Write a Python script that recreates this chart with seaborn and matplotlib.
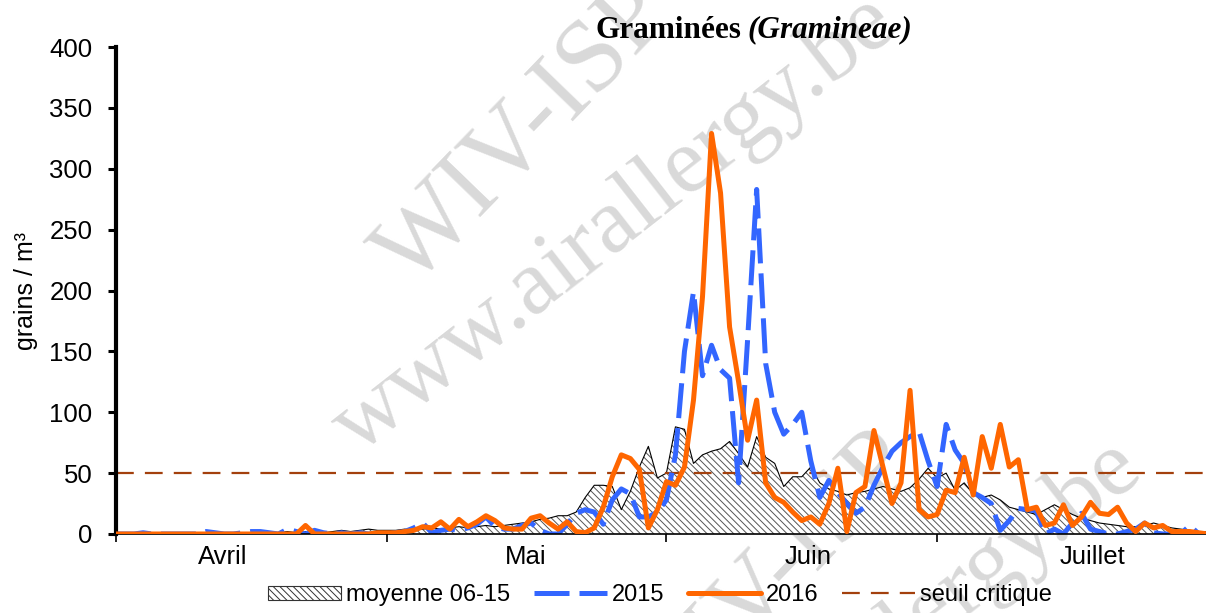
import numpy as np
import pandas as pd
import seaborn as sns
import matplotlib.pyplot as plt
from matplotlib.patches import Patch
from matplotlib.lines import Line2D

# jours depuis le 1er avril (avril -> juillet)
jours = list(range(122))

# moyenne 06-15
moyenne = [0, 0, 0, 0, 1, 0, 0, 1, 0, 0, 1, 1, 0, 1, 1,
           1, 2, 1, 1, 2, 1, 2, 2, 1, 2, 3, 2, 3, 4, 3,
           3, 3, 4, 3, 4, 5, 4, 5, 6, 5, 6, 7, 6, 7, 8,
           9, 10, 12, 13, 15, 15, 18, 30, 40, 40, 39, 20, 35, 55, 72,
           46, 50, 88, 86, 58, 65, 68, 70, 76, 66, 55, 80, 63, 58, 39,
           47, 47, 55, 42, 37, 35, 32, 34, 35, 37, 39, 37, 35, 38, 45,
           54, 46, 50, 36, 42, 33, 30, 32, 28, 22, 20, 18, 16, 20, 24,
           20, 16, 13, 11, 9, 8, 7, 6, 6, 7, 9, 7, 5, 4, 3, 2, 2]

annee_2015 = [0, 0, 0, 1, 0, 0, 0, 0, 0, 0, 2, 1, 0, 0, 1,
              2, 2, 1, 0, 4, 2, 0, 3, 1, 0, 1, 0, 1, 0, 0,
              0, 1, 2, 5, 9, 1, 3, 4, 3, 5, 8, 14, 6, 4, 4,
              7, 9, 3, 0, 0, 8, 17, 20, 18, 8, 28, 37, 33, 14, 14,
              18, 28, 65, 150, 199, 130, 155, 135, 128, 42, 160, 283, 140, 100, 82,
              90, 100, 60, 30, 44, 34, 25, 17, 22, 40, 55, 68, 75, 80, 84,
              60, 39, 90, 69, 58, 34, 30, 25, 3, 11, 21, 20, 19, 0, 4,
              0, 9, 17, 4, 2, 0, 0, 2, 4, 9, 1, 0, 0, 0, 7, 0, 0]

annee_2016 = [0, 0, 0, 0, 0, 0, 0, 0, 0, 0, 0, 0, 0, 0, 0,
              0, 0, 0, 0, 0, 0, 7, 0, 0, 0, 0, 0, 0, 0, 1,
              1, 1, 2, 3, 6, 5, 10, 4, 12, 6, 10, 15, 11, 5, 4,
              4, 13, 15, 9, 4, 10, 2, 1, 5, 22, 47, 65, 62, 53, 5,
              20, 43, 40, 55, 110, 195, 329, 280, 170, 125, 77, 110, 42, 30, 26,
              18, 11, 14, 8, 25, 54, 2, 34, 39, 85, 55, 25, 42, 118, 20,
              14, 16, 36, 34, 63, 32, 80, 54, 90, 55, 61, 20, 22, 7, 9,
              24, 7, 14, 26, 17, 16, 22, 9, 2, 9, 5, 7, 2, 2, 2, 1, 0]

seuil = 50
debut_mois = [0, 30, 61, 91]
mois = ["Avril", "Mai", "Juin", "Juillet"]
pos_mois = [11.8, 45.4, 76.7, 108.2]

df = pd.DataFrame({"jour": jours, "moyenne": moyenne,
                   "2015": annee_2015, "2016": annee_2016})

sns.set_theme(style="white")
plt.rcParams["font.family"] = ["Liberation Sans", "DejaVu Sans"]
plt.rcParams["text.color"] = "black"
plt.rcParams["hatch.linewidth"] = 0.7
plt.rcParams["hatch.color"] = "#555555"

fig = plt.figure(figsize=(12.06, 6.13), dpi=100)
ax = fig.add_axes([0.0962, 0.1289, 0.9038, 0.7944])

# filigrane (coupé aux bords comme sur l'original)
wm = dict(family="Liberation Serif", color="#d9d9d9", zorder=0.5,
          transform=fig.transFigure, ha="center", va="center")
ax.text(525 / 1206, 1 - 135 / 613, "WIV-ISP", fontsize=74, rotation=46, **wm)
ax.text(615 / 1206, 1 - 225 / 613, "www.airallergy.be", fontsize=68, rotation=38, **wm)
ax.text(860 / 1206, 1 - 670 / 613, "www.airallergy.be", fontsize=68, rotation=38, **wm)
ax.text(770 / 1206, 1 - 585 / 613, "WIV-ISP", fontsize=74, rotation=46, **wm)

ax.fill_between(df["jour"], df["moyenne"], facecolor="white", edgecolor="#555555",
                hatch="\\\\\\\\\\", linewidth=0, zorder=1)
sns.lineplot(data=df, x="jour", y="moyenne", ax=ax, color="black", lw=0.8,
             zorder=1.5, legend=False)
ax.axhline(seuil, color="#a3400d", lw=1.6, linestyle=(0, (8, 5)), zorder=1.8)
sns.lineplot(data=df, x="jour", y="2015", ax=ax, color="#3366ff", lw=3.6,
             linestyle=(0, (7, 2)), zorder=2, legend=False)
sns.lineplot(data=df, x="jour", y="2016", ax=ax, color="#ff6600", lw=3.6,
             zorder=3, legend=False)

ax.set_xlim(0, 120.8)
ax.set_ylim(0, 400)
ax.set_yticks(range(0, 401, 50))
ax.set_xticks(debut_mois)
ax.set_xticklabels([])
ax.set_xticks(pos_mois, minor=True)
ax.set_xticklabels(mois, minor=True)
ax.tick_params(axis="x", which="major", bottom=True, direction="out",
               length=6, width=1.2, color="black")
ax.tick_params(axis="x", which="minor", bottom=True, length=0, pad=8,
               labelsize=18.5, labelcolor="black")
ax.tick_params(axis="y", left=True, direction="out", length=6, width=2.2,
               pad=11, labelsize=18.5, labelcolor="black", color="black")

for s in ["top", "right"]:
    ax.spines[s].set_visible(False)
ax.spines["left"].set_linewidth(3)
ax.spines["left"].set_color("black")
ax.spines["bottom"].set_linewidth(1.2)
ax.spines["bottom"].set_color("black")

ax.set_xlabel("")
ax.set_ylabel("grains / m³", fontsize=18, color="black", labelpad=8)

fig.text(741 / 1206, 1 - 30 / 613, "Graminées", family="Liberation Serif",
         weight="bold", fontsize=22.5, color="black", ha="right", va="center")
fig.text(747 / 1206, 1 - 30 / 613, "(Gramineae)", family="Liberation Serif",
         weight="bold", style="italic", fontsize=22.5, color="black",
         ha="left", va="center")

poignees = [
    Patch(facecolor="white", edgecolor="#333333", hatch="\\\\\\\\\\", lw=0.8),
    Line2D([], [], color="#3366ff", lw=3.6, linestyle=(0, (7, 2))),
    Line2D([], [], color="#ff6600", lw=3.6),
    Line2D([], [], color="#a3400d", lw=1.6, linestyle=(0, (8, 5))),
]
fig.legend(poignees, ["moyenne 06-15", "2015", "2016", "seuil critique"],
           loc="center", bbox_to_anchor=(0.547, 1 - 595 / 613), ncol=4,
           frameon=False, fontsize=17, handlelength=3.1, handleheight=0.55,
           columnspacing=1.0, handletextpad=0.2, labelcolor="black")

plt.savefig("out.png", dpi=100)
plt.close()
